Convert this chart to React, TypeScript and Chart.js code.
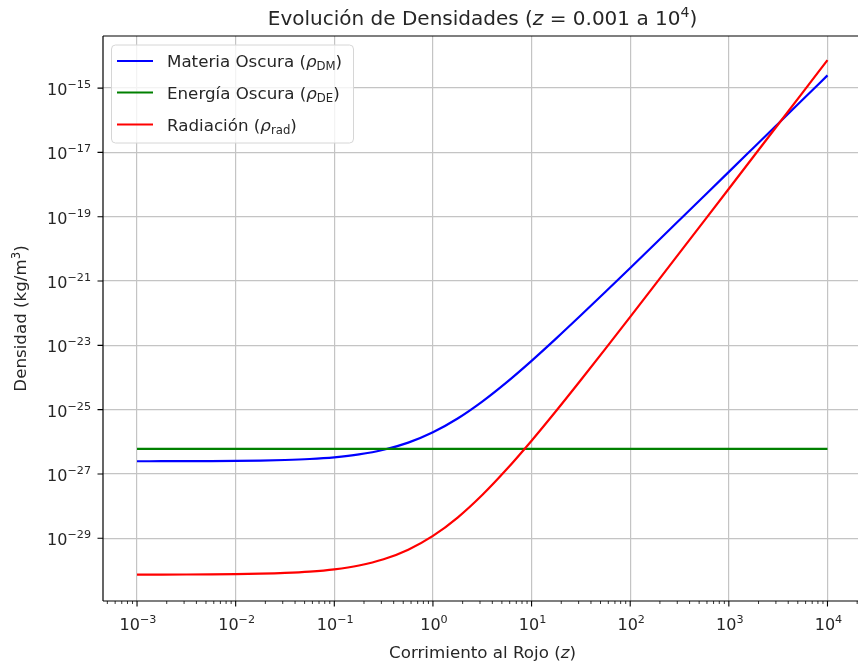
import React, { useEffect, useRef } from 'react';
import { Chart, registerables } from 'chart.js';

Chart.register(...registerables);

// Redshift samples (z)
const redshift = [
  0.001, 0.00178, 0.00316, 0.00562, 0.01, 0.0178, 0.0316, 0.0562, 0.1, 0.178,
  0.316, 0.562, 1, 1.78, 3.16, 5.62, 10, 17.8, 31.6, 56.2,
  100, 178, 316, 562, 1000, 1780, 3160, 5620, 10000,
];

// Materia oscura (kg/m^3)
const darkMatter = [
  2.487e-27, 2.493e-27, 2.504e-27, 2.522e-27, 2.555e-27, 2.615e-27, 2.723e-27, 2.922e-27, 3.301e-27, 4.054e-27,
  5.652e-27, 9.451e-27, 1.984e-26, 5.328e-26, 1.785e-25, 7.195e-25, 3.301e-24, 1.648e-23, 8.592e-23, 4.641e-22,
  2.555e-21, 1.422e-20, 7.9e-20, 4.426e-19, 2.487e-18, 1.401e-17, 7.833e-17, 4.404e-16, 2.481e-15,
];

// Energía oscura (kg/m^3)
const darkEnergy = [
  6.0e-27, 6.0e-27, 6.0e-27, 6.0e-27, 6.0e-27, 6.0e-27, 6.0e-27, 6.0e-27, 6.0e-27, 6.0e-27,
  6.0e-27, 6.0e-27, 6.0e-27, 6.0e-27, 6.0e-27, 6.0e-27, 6.0e-27, 6.0e-27, 6.0e-27, 6.0e-27,
  6.0e-27, 6.0e-27, 6.0e-27, 6.0e-27, 6.0e-27, 6.0e-27, 6.0e-27, 6.0e-27, 6.0e-27,
];

// Radiación (kg/m^3)
const radiation = [
  7.43e-31, 7.453e-31, 7.494e-31, 7.568e-31, 7.7e-31, 7.941e-31, 8.381e-31, 9.209e-31, 1.083e-30, 1.425e-30,
  2.219e-30, 4.405e-30, 1.184e-29, 4.42e-29, 2.216e-28, 1.421e-27, 1.083e-26, 9.244e-26, 8.358e-25, 7.922e-24,
  7.7e-23, 7.597e-22, 7.473e-21, 7.435e-20, 7.43e-19, 7.445e-18, 7.388e-17, 7.387e-16, 7.403e-15,
];

const seriesLabels = ['Materia Oscura', 'Energía Oscura', 'Radiación'];
const seriesSubs = ['DM', 'DE', 'rad'];
const seriesColors = ['#0000ff', '#008000', '#ff0000'];

const xTickExps = [-3, -2, -1, 0, 1, 2, 3, 4];
const yTickExps = [-29, -27, -25, -23, -21, -19, -17, -15];

const X_MIN_EXP = -3.345;
const X_MAX_EXP = 4.35;
const Y_MIN_EXP = -30.95;
const Y_MAX_EXP = -13.38;

const FONT = '"DejaVu Sans", "Liberation Sans", sans-serif';
const TEXT = '#262626';

type Part = { t: string; size: number; italic?: boolean; dy?: number };

function drawParts(
  ctx: CanvasRenderingContext2D,
  parts: Part[],
  x: number,
  y: number,
  align: 'left' | 'center' | 'right',
) {
  const fontOf = (p: Part) => `${p.italic ? 'italic ' : ''}${p.size}px ${FONT}`;
  let total = 0;
  const widths = parts.map((p) => {
    ctx.font = fontOf(p);
    const w = ctx.measureText(p.t).width;
    total += w;
    return w;
  });
  let cx = align === 'left' ? x : align === 'center' ? x - total / 2 : x - total;
  ctx.textAlign = 'left';
  ctx.textBaseline = 'alphabetic';
  parts.forEach((p, i) => {
    ctx.font = fontOf(p);
    ctx.fillText(p.t, cx, y + (p.dy || 0));
    cx += widths[i];
  });
}

const expStr = (e: number) => (e < 0 ? '\u2212' + Math.abs(e) : String(e));

const decorPlugin = {
  id: 'decor',
  afterDraw(chart: any) {
    const ctx: CanvasRenderingContext2D = chart.ctx;
    const { left, right, top, bottom } = chart.chartArea;
    const xs = chart.scales.x;
    const ys = chart.scales.y;
    ctx.save();

    // spines
    ctx.strokeStyle = '#000';
    ctx.lineWidth = 1.2;
    ctx.beginPath();
    ctx.moveTo(left, top);
    ctx.lineTo(left, bottom);
    ctx.moveTo(left, top);
    ctx.lineTo(right, top);
    ctx.moveTo(left, bottom);
    ctx.lineTo(right, bottom);
    ctx.stroke();

    // x ticks (major + minor)
    ctx.beginPath();
    ctx.lineWidth = 1.1;
    xTickExps.forEach((e) => {
      const px = xs.getPixelForValue(Math.pow(10, e));
      ctx.moveTo(px, bottom);
      ctx.lineTo(px, bottom + 5.5);
    });
    ctx.stroke();
    ctx.beginPath();
    ctx.lineWidth = 0.8;
    for (let e = -4; e <= 4; e++) {
      for (let k = 2; k <= 9; k++) {
        const v = k * Math.pow(10, e);
        const lv = Math.log10(v);
        if (lv < X_MIN_EXP || lv > X_MAX_EXP) continue;
        const px = xs.getPixelForValue(v);
        ctx.moveTo(px, bottom);
        ctx.lineTo(px, bottom + 3);
      }
    }
    ctx.stroke();

    // y ticks
    ctx.beginPath();
    ctx.lineWidth = 1.1;
    yTickExps.forEach((e) => {
      const py = ys.getPixelForValue(Math.pow(10, e));
      ctx.moveTo(left, py);
      ctx.lineTo(left - 5.5, py);
    });
    ctx.stroke();

    ctx.fillStyle = TEXT;
    // x tick labels
    xTickExps.forEach((e) => {
      const px = xs.getPixelForValue(Math.pow(10, e));
      drawParts(
        ctx,
        [
          { t: '10', size: 16 },
          { t: expStr(e), size: 11.2, dy: -7 },
        ],
        px + 1,
        630,
        'center',
      );
    });
    // y tick labels
    yTickExps.forEach((e) => {
      const py = ys.getPixelForValue(Math.pow(10, e));
      drawParts(
        ctx,
        [
          { t: '10', size: 16 },
          { t: expStr(e), size: 11.2, dy: -7 },
        ],
        left - 12,
        py + 7,
        'right',
      );
    });

    // axis titles
    const cxPlot = (left + right) / 2;
    drawParts(
      ctx,
      [
        { t: 'Corrimiento al Rojo (', size: 16.7 },
        { t: 'z', size: 16.7, italic: true },
        { t: ')', size: 16.7 },
      ],
      cxPlot,
      658,
      'center',
    );
    ctx.save();
    ctx.translate(26, (top + bottom) / 2);
    ctx.rotate(-Math.PI / 2);
    drawParts(
      ctx,
      [
        { t: 'Densidad (kg/m', size: 16.7 },
        { t: '3', size: 11.7, dy: -6.5 },
        { t: ')', size: 16.7 },
      ],
      0,
      0,
      'center',
    );
    ctx.restore();

    // title
    drawParts(
      ctx,
      [
        { t: 'Evolución de Densidades (', size: 20 },
        { t: 'z', size: 20, italic: true },
        { t: ' = 0.001 a 10', size: 20 },
        { t: '4', size: 14, dy: -8.5 },
        { t: ')', size: 20 },
      ],
      cxPlot,
      25,
      'center',
    );

    // legend
    const lx = 111.5;
    const ly = 45;
    const lw = 242;
    const lh = 98;
    const r = 4;
    ctx.fillStyle = 'rgba(255,255,255,0.8)';
    ctx.strokeStyle = '#d6d6d6';
    ctx.lineWidth = 1;
    ctx.beginPath();
    ctx.moveTo(lx + r, ly);
    ctx.lineTo(lx + lw - r, ly);
    ctx.quadraticCurveTo(lx + lw, ly, lx + lw, ly + r);
    ctx.lineTo(lx + lw, ly + lh - r);
    ctx.quadraticCurveTo(lx + lw, ly + lh, lx + lw - r, ly + lh);
    ctx.lineTo(lx + r, ly + lh);
    ctx.quadraticCurveTo(lx, ly + lh, lx, ly + lh - r);
    ctx.lineTo(lx, ly + r);
    ctx.quadraticCurveTo(lx, ly, lx + r, ly);
    ctx.closePath();
    ctx.fill();
    ctx.stroke();

    const rows = [61, 92.5, 124.5];
    seriesLabels.forEach((lab, i) => {
      const yy = rows[i];
      ctx.strokeStyle = seriesColors[i];
      ctx.lineWidth = 2.2;
      ctx.beginPath();
      ctx.moveTo(117, yy);
      ctx.lineTo(153, yy);
      ctx.stroke();
      ctx.fillStyle = TEXT;
      drawParts(
        ctx,
        [
          { t: lab + ' (', size: 16.7 },
          { t: 'ρ', size: 16.7, italic: true },
          { t: seriesSubs[i], size: 11.7, dy: 3 },
          { t: ')', size: 16.7 },
        ],
        167,
        yy + 6,
        'left',
      );
    });

    ctx.restore();
  },
};

export default function App() {
  const canvasRef = useRef<HTMLCanvasElement | null>(null);

  useEffect(() => {
    if (!canvasRef.current) return;
    const series = [darkMatter, darkEnergy, radiation];
    const chart = new Chart(canvasRef.current, {
      type: 'line',
      data: {
        datasets: series.map((vals, i) => ({
          label: seriesLabels[i],
          data: redshift.map((z, j) => ({ x: z, y: vals[j] })),
          borderColor: seriesColors[i],
          backgroundColor: seriesColors[i],
          borderWidth: 2.2,
          pointRadius: 0,
          cubicInterpolationMode: 'monotone' as const,
          fill: false,
          order: 2 - i,
        })),
      },
      options: {
        responsive: false,
        animation: false,
        devicePixelRatio: 1,
        layout: { padding: { top: 36, right: 4, left: 0, bottom: 0 } },
        plugins: {
          legend: { display: false },
          title: { display: false },
          tooltip: { enabled: false },
        },
        scales: {
          x: {
            type: 'logarithmic',
            min: Math.pow(10, X_MIN_EXP),
            max: Math.pow(10, X_MAX_EXP),
            afterBuildTicks: (scale: any) => {
              scale.ticks = xTickExps.map((e) => ({ value: Math.pow(10, e) }));
            },
            afterFit: (scale: any) => {
              scale.height = 68;
            },
            ticks: { display: false },
            grid: { color: '#c4c4c4', lineWidth: 1.2, drawTicks: false },
            border: { display: false },
          },
          y: {
            type: 'logarithmic',
            min: Math.pow(10, Y_MIN_EXP),
            max: Math.pow(10, Y_MAX_EXP),
            afterBuildTicks: (scale: any) => {
              scale.ticks = yTickExps.map((e) => ({ value: Math.pow(10, e) }));
            },
            afterFit: (scale: any) => {
              scale.width = 103;
            },
            ticks: { display: false },
            grid: { color: '#c4c4c4', lineWidth: 1.2, drawTicks: false },
            border: { display: false },
          },
        },
      },
      plugins: [decorPlugin],
    } as any);
    return () => chart.destroy();
  }, []);

  return (
    <div
      style={{
        position: 'absolute',
        left: 0,
        top: 0,
        width: 858,
        height: 669,
        overflow: 'hidden',
        background: '#fff',
      }}
    >
      <canvas ref={canvasRef} width={866} height={669} style={{ width: 866, height: 669, display: 'block' }} />
    </div>
  );
}
